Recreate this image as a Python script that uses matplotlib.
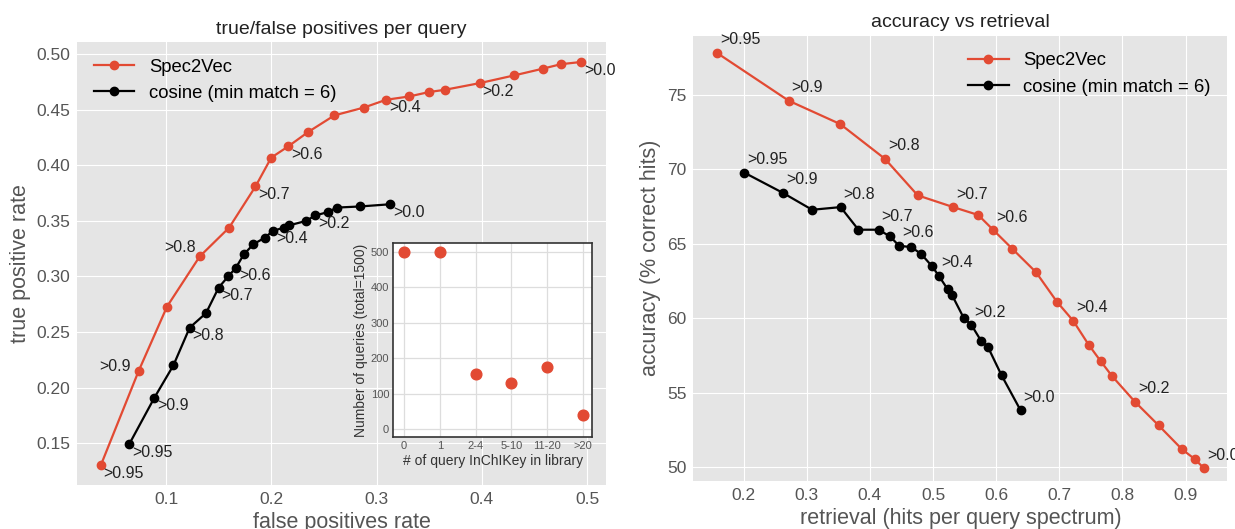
import matplotlib
matplotlib.use("Agg")
import matplotlib.pyplot as plt

plt.style.use("ggplot")
plt.rcParams["font.family"] = ["Liberation Sans", "DejaVu Sans"]

# ---------------------------------------------------------------------------
# Data
# ---------------------------------------------------------------------------
fpr_s2v = [0.038, 0.074, 0.101, 0.132, 0.160, 0.185, 0.200, 0.216, 0.235, 0.260,
           0.288, 0.309, 0.331, 0.350, 0.365, 0.398, 0.431, 0.458, 0.475, 0.494]
tpr_s2v = [0.130, 0.215, 0.273, 0.318, 0.344, 0.381, 0.407, 0.417, 0.430, 0.445,
           0.452, 0.459, 0.462, 0.466, 0.468, 0.474, 0.481, 0.487, 0.491, 0.493]
fpr_cos = [0.065, 0.089, 0.107, 0.1225, 0.138, 0.150, 0.159, 0.1665, 0.174, 0.183,
           0.194, 0.2015, 0.212, 0.217, 0.233, 0.242, 0.254, 0.262, 0.284, 0.313]
tpr_cos = [0.149, 0.191, 0.220, 0.254, 0.267, 0.290, 0.300, 0.308, 0.320, 0.329,
           0.335, 0.341, 0.344, 0.346, 0.350, 0.355, 0.358, 0.362, 0.363, 0.365]

ret_s2v = [0.1575, 0.2714, 0.353, 0.4237, 0.4757, 0.532, 0.5716, 0.5955, 0.6255, 0.663,
           0.6962, 0.722, 0.7465, 0.7658, 0.7834, 0.8197, 0.8573, 0.8944, 0.915, 0.9293]
acc_s2v = [77.84, 74.62, 73.05, 70.72, 68.26, 67.47, 66.94, 65.93, 64.67, 63.1,
           61.11, 59.83, 58.22, 57.10, 56.12, 54.39, 52.80, 51.19, 50.52, 49.91]
ret_cos = [0.2013, 0.262, 0.3085, 0.3536, 0.3818, 0.4137, 0.4319, 0.4462, 0.4658, 0.4814,
           0.4983, 0.509, 0.5233, 0.5303, 0.5485, 0.5609, 0.576, 0.5867, 0.6086, 0.6387]
acc_cos = [69.78, 68.43, 67.29, 67.47, 65.95, 65.95, 65.50, 64.87, 64.78, 64.31,
           63.5, 62.86, 61.94, 61.54, 60.03, 59.54, 58.49, 58.09, 56.16, 53.81]

label_idx = [0, 1, 3, 5, 7, 11, 15, 19]
label_txt = [">0.95", ">0.9", ">0.8", ">0.7", ">0.6", ">0.4", ">0.2", ">0.0"]

inset_cats = ["0", "1", "2-4", "5-10", "11-20", ">20"]
inset_counts = [500, 500, 157, 130, 174, 39]

S2V_COLOR = "#E24A33"
COS_COLOR = "black"

# label offsets (pixels); left panel Spec2Vec has two labels moved to the left
offs_left_s2v = [(3, -8, "left"), (-8, 4, "right"), (-4, 9, "right"), (3, -8, "left"),
                 (3, -8, "left"), (3, -8, "left"), (3, -8, "left"), (3, -8, "left")]
offs_left_cos = [(3, -8, "left")] * len(label_idx)
offs_right = [(3, 13, "left")] * len(label_idx)

fig = plt.figure(figsize=(12.35, 5.29), dpi=100)


def annotate(ax, xs, ys, offsets):
    for i, txt, (dx, dy, ha) in zip(label_idx, label_txt, offsets):
        ax.annotate(txt, (xs[i], ys[i]), xytext=(dx, dy), textcoords="offset pixels",
                    ha=ha, va="center", fontsize=11.5, color="#222222")


def style(ax):
    ax.tick_params(axis="both", length=0, labelsize=12.5, pad=5, colors="#555555")
    for s in ax.spines.values():
        s.set_visible(False)


# ---------------------------------------------------------------------------
# Left: true/false positives
# ---------------------------------------------------------------------------
ax1 = fig.add_axes([0.0624, 0.0832, 0.4283, 0.8374])
ax1.plot(fpr_s2v, tpr_s2v, "o-", color=S2V_COLOR, lw=1.6, ms=6, label="Spec2Vec")
ax1.plot(fpr_cos, tpr_cos, "o-", color=COS_COLOR, lw=1.6, ms=6, label="cosine (min match = 6)")
annotate(ax1, fpr_s2v, tpr_s2v, offs_left_s2v)
annotate(ax1, fpr_cos, tpr_cos, offs_left_cos)
ax1.set_xlim(0.0155, 0.518)
ax1.set_ylim(0.1124, 0.511)
ax1.set_xticks([0.1, 0.2, 0.3, 0.4, 0.5])
ax1.set_xticklabels(["0.1", "0.2", "0.3", "0.4", "0.5"])
ax1.set_yticks([0.15, 0.20, 0.25, 0.30, 0.35, 0.40, 0.45, 0.50])
ax1.set_yticklabels([f"{v:.2f}" for v in [0.15, 0.20, 0.25, 0.30, 0.35, 0.40, 0.45, 0.50]])
style(ax1)
ax1.set_xlabel("false positives rate", fontsize=15.5, color="#555555")
ax1.set_ylabel("true positive rate", fontsize=15.5, color="#555555")
ax1.set_title("true/false positives per query", fontsize=14, color="#222222")
ax1.legend(loc="upper left", frameon=False, fontsize=13.3, handlelength=2.2)

# inset
axi = fig.add_axes([0.3185, 0.1745, 0.1611, 0.3656])
axi.set_facecolor("white")
axi.plot(range(len(inset_cats)), inset_counts, "o", color=S2V_COLOR, ms=7.7, ls="none")
axi.set_xlim(-0.3, 5.27)
axi.set_ylim(-21, 524)
axi.set_xticks(range(len(inset_cats)))
axi.set_xticklabels(inset_cats)
axi.set_yticks([0, 100, 200, 300, 400, 500])
axi.grid(True, color="#DDDDDD", lw=0.9)
axi.tick_params(axis="both", length=0, labelsize=8, pad=3, colors="#555555")
for s in axi.spines.values():
    s.set_visible(True)
    s.set_color("#333333")
    s.set_linewidth(1.2)
axi.set_xlabel("# of query InChIKey in library", fontsize=10, color="#333333", labelpad=2)
axi.set_ylabel("Number of queries (total=1500)", fontsize=10, color="#333333", labelpad=2)

# ---------------------------------------------------------------------------
# Right: accuracy vs retrieval
# ---------------------------------------------------------------------------
ax2 = fig.add_axes([0.5615, 0.0913, 0.4324, 0.8412])
ax2.plot(ret_s2v, acc_s2v, "o-", color=S2V_COLOR, lw=1.6, ms=6, label="Spec2Vec")
ax2.plot(ret_cos, acc_cos, "o-", color=COS_COLOR, lw=1.6, ms=6, label="cosine (min match = 6)")
annotate(ax2, ret_s2v, acc_s2v, offs_right)
annotate(ax2, ret_cos, acc_cos, offs_right)
ax2.set_xlim(0.1205, 0.9664)
ax2.set_ylim(49.08, 78.99)
ax2.set_xticks([0.2, 0.3, 0.4, 0.5, 0.6, 0.7, 0.8, 0.9])
ax2.set_yticks([50, 55, 60, 65, 70, 75])
style(ax2)
ax2.set_xlabel("retrieval (hits per query spectrum)", fontsize=15.5, color="#555555")
ax2.set_ylabel("accuracy (% correct hits)", fontsize=15.5, color="#555555")
ax2.set_title("accuracy vs retrieval", fontsize=14, color="#222222")
ax2.legend(loc="upper right", frameon=False, fontsize=13.3, handlelength=2.2)

fig.savefig("out.png", dpi=100)
